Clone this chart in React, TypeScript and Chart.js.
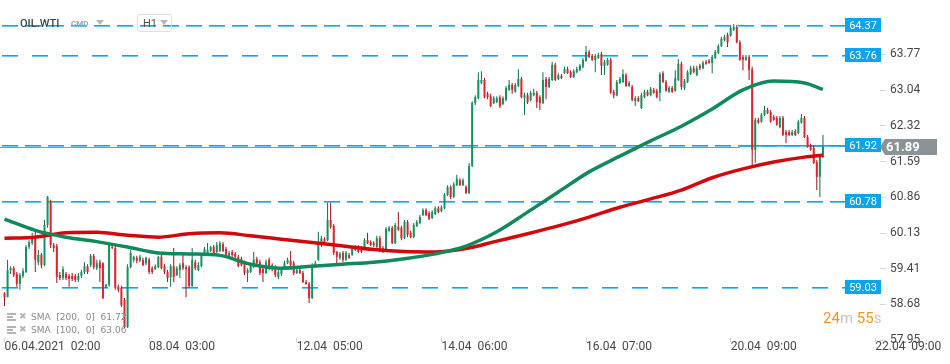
import React, { useEffect, useRef } from 'react';
import { Chart, registerables } from 'chart.js';
Chart.register(...registerables);

// ---- OHLC data (hourly candles, OIL.WTI H1) ----
const opens = [
58.91,58.83,59.38,59.42,59.30,59.10,59.26,59.34,59.85,59.93,
60.05,59.54,59.69,59.48,60.30,60.75,59.89,59.87,59.28,59.22,
59.30,59.26,59.26,59.26,59.18,59.26,59.34,59.46,59.48,59.67,
59.42,59.54,59.52,59.04,59.08,59.85,59.83,59.04,59.02,58.77,
58.22,59.44,59.59,59.63,59.57,59.59,59.52,59.59,59.42,59.40,59.44,
59.65,59.46,59.34,59.24,59.46,59.28,59.38,59.52,59.44,59.44,
59.06,59.54,59.38,59.46,59.69,59.73,59.77,59.85,59.75,59.77,
59.91,59.81,59.65,59.75,59.71,59.65,59.61,59.52,59.32,59.34,
59.44,59.61,59.54,59.40,59.32,59.59,59.48,59.44,59.24,59.30,
59.42,59.52,59.57,59.52,59.32,59.38,59.32,59.14,59.10,58.81,
59.46,59.59,59.95,60.01,59.99,60.40,
60.28,59.75,59.63,59.73,59.59,59.69,59.69,59.79,59.85,59.83,
59.85,59.99,59.95,59.93,59.85,60.03,59.83,59.79,60.18,60.24,
59.93,60.26,60.24,60.03,60.36,60.14,60.05,60.28,60.34,60.50,
60.60,60.54,60.44,60.52,60.64,60.58,60.64,60.91,61.07,60.87,
61.11,61.21,61.11,61.07,60.95,
61.50,62.78,62.88,63.19,63.25,62.97,62.92,62.78,62.80,62.90,
62.76,62.84,63.05,63.15,63.01,63.13,63.27,62.88,62.94,62.84,
62.94,62.99,62.90,62.78,63.27,63.11,63.25,63.56,63.27,63.33,
63.39,63.47,63.41,63.31,63.41,63.45,63.52,63.64,63.82,63.74,
63.66,63.70,63.78,63.54,63.56,63.66,63.01,62.94,63.19,63.21,
63.35,63.13,63.11,62.82,62.88,
62.68,62.90,63.01,62.94,63.05,63.03,62.99,63.39,63.21,63.01,
63.09,63.03,63.25,63.58,63.09,63.21,63.37,63.49,63.35,63.54,
63.49,63.62,63.64,63.60,63.70,63.80,63.94,64.06,64.17,64.15,
64.27,64.33,64.02,63.72,63.66,63.72,63.47,61.83,62.44,62.40,
62.54,62.64,62.60,62.50,62.48,62.29,62.48,62.19,62.19,62.13,
62.21,62.17,62.38,62.48,62.09,61.91,61.87,61.58,61.28,61.68
];
const highs = [
58.93,59.59,59.46,59.46,59.34,59.32,59.42,59.89,59.99,60.14,
60.16,59.79,59.73,60.40,60.89,60.81,59.93,59.91,59.34,59.46,
59.34,59.30,59.32,59.30,59.32,59.38,59.54,59.50,59.71,59.71,
59.59,59.59,59.54,59.10,59.93,59.89,59.87,59.08,59.06,58.81,
59.50,59.79,59.67,59.67,59.69,59.63,59.65,59.63,59.46,59.50,59.67,
59.69,59.50,59.38,59.50,59.83,59.46,59.52,59.69,59.48,59.48,
59.83,59.59,59.54,59.71,59.85,59.93,59.87,59.89,59.95,59.97,
59.95,59.85,59.77,59.79,59.75,59.69,59.65,59.57,59.42,59.52,
59.75,59.65,59.59,59.44,59.59,59.63,59.52,59.48,59.38,59.44,
59.57,59.63,59.77,59.57,59.42,59.42,59.36,59.18,59.14,59.52,
59.57,60.16,60.08,60.05,60.75,60.75,
60.32,59.77,59.75,59.77,59.77,59.73,59.87,59.89,59.89,59.87,
60.03,60.14,59.99,59.97,60.08,60.08,59.87,60.26,60.28,60.28,
60.34,60.56,60.28,60.40,60.40,60.18,60.34,60.40,60.50,60.64,
60.64,60.58,60.60,60.68,60.68,60.70,60.95,61.11,61.11,61.17,
61.32,61.25,61.25,61.11,61.56,
62.82,62.94,63.41,63.43,63.29,63.01,62.97,62.92,62.92,62.94,
62.92,63.13,63.25,63.19,63.19,63.47,63.31,62.99,62.99,63.03,
63.07,63.03,62.94,63.41,63.31,63.31,63.62,63.60,63.39,63.37,
63.52,63.52,63.45,63.47,63.52,63.58,63.70,63.94,63.86,63.78,
63.78,63.80,63.82,63.66,63.70,63.70,63.05,63.25,63.31,63.47,
63.39,63.23,63.15,62.92,62.92,
62.99,63.05,63.05,63.11,63.09,63.07,63.41,63.43,63.25,63.13,
63.13,63.45,63.68,63.62,63.27,63.45,63.54,63.54,63.54,63.58,
63.64,63.66,63.68,63.76,63.86,63.98,64.13,64.17,64.21,64.35,
64.39,64.37,64.06,63.76,63.76,63.76,63.52,62.48,62.48,62.58,
62.72,62.68,62.64,62.54,62.52,62.52,62.52,62.23,62.23,62.23,
62.25,62.44,62.56,62.52,62.13,61.95,61.91,61.62,61.72,62.13
];
const lows = [
58.65,58.83,59.30,59.24,59.04,58.98,59.22,59.32,59.81,59.89,
59.34,59.48,59.42,59.46,60.24,59.83,59.75,59.12,59.18,59.18,
59.18,59.04,59.16,59.14,59.14,59.22,59.30,59.30,59.44,59.40,
59.38,59.14,58.79,59.02,59.04,59.81,58.98,58.93,58.63,58.20,
58.20,59.42,59.54,59.52,59.54,59.46,59.48,59.30,59.30,59.38,59.42,
59.40,59.30,59.14,59.04,59.14,59.26,59.22,59.38,58.83,59.02,
59.04,59.38,59.36,59.44,59.67,59.71,59.75,59.71,59.73,59.75,
59.75,59.67,59.63,59.65,59.63,59.44,59.46,59.28,59.14,59.32,
59.42,59.50,59.28,59.14,59.30,59.38,59.36,59.24,59.20,59.26,
59.40,59.50,59.46,59.28,59.30,59.30,59.12,59.08,58.71,58.79,
59.44,59.57,59.85,59.89,59.97,60.22,
59.69,59.48,59.59,59.54,59.57,59.61,59.67,59.77,59.73,59.73,
59.83,59.91,59.87,59.85,59.83,59.75,59.73,59.77,60.16,59.91,
59.91,60.18,59.99,60.01,60.05,60.03,60.03,60.26,60.32,60.48,
60.48,60.40,60.42,60.50,60.54,60.56,60.62,60.89,60.83,60.85,
61.09,61.09,61.09,60.93,60.93,
61.48,62.74,62.86,63.17,62.88,62.86,62.70,62.76,62.78,62.68,
62.74,62.82,63.03,62.97,62.99,63.11,62.88,62.54,62.76,62.82,
62.92,62.68,62.64,62.76,62.86,63.09,63.23,63.23,63.25,63.27,
63.37,63.37,63.29,63.29,63.39,63.43,63.49,63.62,63.70,63.64,
63.41,63.68,63.35,63.35,63.54,62.97,62.88,62.92,63.17,63.19,
63.11,63.11,62.82,62.72,62.80,
62.66,62.88,62.92,62.92,62.97,62.88,62.82,63.19,63.01,62.99,
62.99,63.01,63.23,63.05,63.05,63.19,63.35,63.39,63.33,63.45,
63.47,63.56,63.58,63.39,63.68,63.78,63.92,64.04,63.92,64.13,
64.25,64.00,63.64,63.45,63.64,63.25,61.48,61.56,62.36,62.38,
62.52,62.56,62.38,62.42,62.32,62.27,62.11,61.97,62.11,62.11,
62.11,62.15,62.36,62.07,61.87,61.81,61.54,61.01,60.87,61.66
];
const closes = [
58.83,59.38,59.42,59.28,59.10,59.28,59.36,59.85,59.95,60.05,
59.59,59.69,59.48,60.30,60.87,59.89,59.83,59.24,59.22,59.40,
59.22,59.20,59.20,59.18,59.26,59.34,59.46,59.34,59.67,59.44,
59.52,59.42,58.81,59.08,59.89,59.83,59.02,58.98,58.67,58.22,
59.44,59.73,59.65,59.57,59.65,59.48,59.63,59.34,59.34,59.46,59.65,
59.42,59.34,59.22,59.46,59.24,59.42,59.48,59.42,59.40,59.06,
59.59,59.42,59.48,59.69,59.81,59.79,59.85,59.73,59.89,59.93,
59.77,59.69,59.73,59.69,59.65,59.46,59.48,59.32,59.38,59.48,
59.59,59.52,59.32,59.32,59.54,59.42,59.40,59.28,59.34,59.40,
59.52,59.59,59.48,59.32,59.38,59.32,59.14,59.10,58.81,59.48,
59.52,59.95,60.03,59.91,60.40,60.26,
59.73,59.65,59.71,59.59,59.73,59.63,59.83,59.85,59.75,59.75,
59.99,59.93,59.89,59.89,60.03,59.79,59.75,60.22,60.24,59.93,
60.30,60.20,60.03,60.36,60.10,60.05,60.30,60.36,60.46,60.60,
60.50,60.42,60.56,60.64,60.56,60.66,60.91,61.07,60.87,61.13,
61.24,61.11,61.21,60.95,61.50,
62.78,62.90,63.25,63.25,62.90,62.90,62.72,62.88,62.88,62.72,
62.88,63.09,63.15,63.05,63.15,63.27,62.90,62.94,62.80,62.99,
62.99,62.80,62.78,63.25,63.11,63.27,63.56,63.25,63.35,63.29,
63.47,63.39,63.31,63.43,63.47,63.54,63.66,63.82,63.72,63.66,
63.74,63.76,63.54,63.62,63.66,62.99,62.94,63.21,63.27,63.37,
63.13,63.19,62.84,62.88,62.82,
62.94,63.01,62.94,63.07,62.99,62.90,63.37,63.21,63.03,63.09,
63.01,63.29,63.58,63.11,63.23,63.41,63.49,63.41,63.49,63.49,
63.60,63.58,63.60,63.72,63.82,63.94,64.09,64.13,64.02,64.31,
64.33,64.02,63.66,63.66,63.72,63.45,61.83,62.44,62.38,62.54,
62.64,62.58,62.40,62.44,62.34,62.48,62.13,62.13,62.13,62.19,
62.13,62.40,62.48,62.09,61.89,61.83,61.56,61.28,61.72,61.89
];

// ---- moving averages (sampled at candle indices) ----
const smaIdx = [0,10,20,30,40,50,60,70,80,90,100,110,120,130,140,150,160,170,180,190,200,210,220,230,240,250,260,266];
const sma100 = [60.42,60.19,60.05,59.96,59.85,59.73,59.71,59.68,59.50,59.42,59.46,59.50,59.54,59.61,59.71,59.87,60.16,60.56,60.97,61.38,61.70,62.01,62.31,62.66,63.05,63.23,63.19,63.06];
const sma200 = [60.03,60.05,60.14,60.15,60.09,60.05,60.12,60.14,60.08,60.01,59.94,59.87,59.80,59.76,59.75,59.82,59.97,60.12,60.28,60.46,60.66,60.83,61.01,61.26,61.44,61.58,61.68,61.72];

// ---- axes ----
const xTickIdx = [0, 47, 95, 142, 189, 236, 283];
const xTickLabels = ['06.04.2021  02:00', '08.04  03:00', '12.04  05:00', '14.04  06:00', '16.04  07:00', '20.04  09:00', '22.04  09:00'];
const yTicks = [63.77, 63.04, 62.32, 61.59, 60.86, 60.13, 59.41, 58.68, 57.95];

// ---- price levels ----
const levels = [64.37, 63.76, 61.92, 60.78, 59.03];
const levelDash = [[16, 7], [16, 14], [16, 7], [16, 7], [16, 14]];
const currentPrice = 61.89;

const GREEN = '#16915f';
const RED = '#e0242f';
const GREEN_W = '#0d7048';
const RED_W = '#9a1119';
const BLUE = '#08a5f2';
const BLUE_SOFT = 'rgba(8,165,242,0.6)';

const levelPlugin = {
  id: 'levels',
  beforeDatasetsDraw(chart: any) {
    const { ctx, chartArea, scales } = chart;
    const y = scales.y;
    const xEnd = chartArea.right - 35;
    ctx.save();
    const cy = Math.round(y.getPixelForValue(currentPrice));
    ctx.fillStyle = '#8f969b';
    ctx.fillRect(chartArea.left, cy, 740 - chartArea.left, 1);
    levels.forEach((v, k) => {
      const py = Math.round(y.getPixelForValue(v));
      const [dash, gap] = levelDash[k];
      for (let x = chartArea.left + 2; x < xEnd; x += dash + gap) {
        const w = Math.min(dash, xEnd - x);
        ctx.fillStyle = BLUE;
        ctx.fillRect(x, py, w, 1);
        ctx.fillStyle = BLUE_SOFT;
        ctx.fillRect(x, py + 1, w, 1);
      }
      if (Math.abs(py - cy) < 3) {
        ctx.fillStyle = BLUE;
        ctx.fillRect(740, py, xEnd - 740, 1);
        ctx.fillStyle = BLUE_SOFT;
        ctx.fillRect(740, py + 1, xEnd - 740, 1);
      }
    });
    ctx.restore();
  },
  afterDatasetsDraw(chart: any) {
    const { ctx, chartArea, scales } = chart;
    const y = scales.y;
    ctx.save();
    levels.forEach((v) => {
      const py = Math.round(y.getPixelForValue(v));
      ctx.fillStyle = '#0ca4ee';
      ctx.fillRect(chartArea.right - 35, py - 7, 36, 14);
      ctx.fillStyle = '#ffffff';
      ctx.font = '11px Roboto';
      ctx.textAlign = 'center';
      ctx.textBaseline = 'middle';
      ctx.fillText(v.toFixed(2), chartArea.right - 17, py + 1);
    });
    ctx.restore();
  },
  afterDraw(chart: any) {
    const { ctx, chartArea, scales } = chart;
    const y = scales.y;
    const cy = Math.round(y.getPixelForValue(currentPrice));
    const x0 = chartArea.right;
    ctx.save();
    ctx.fillStyle = '#8b9397';
    ctx.beginPath();
    ctx.moveTo(x0, cy);
    ctx.lineTo(x0 + 5, cy - 8);
    ctx.lineTo(x0 + 57, cy - 8);
    ctx.lineTo(x0 + 57, cy + 8);
    ctx.lineTo(x0 + 5, cy + 8);
    ctx.closePath();
    ctx.fill();
    ctx.fillStyle = '#ffffff';
    ctx.font = 'bold 13px Roboto';
    ctx.textAlign = 'left';
    ctx.textBaseline = 'middle';
    ctx.fillText(currentPrice.toFixed(2), x0 + 6, cy + 1);
    ctx.restore();
  },
};

export default function App() {
  const ref = useRef<HTMLCanvasElement>(null);
  useEffect(() => {
    const isUp = closes.map((c, i) => c >= opens[i]);
    const bodyData = opens.map((o, i) => ({ x: i, y: [o, closes[i]] }));
    const wickData = lows.map((l, i) => ({ x: i, y: [l, highs[i]] }));
    const chart = new Chart(ref.current as HTMLCanvasElement, {
      type: 'bar',
      data: {
        datasets: [
          {
            type: 'line',
            label: 'SMA 100',
            data: smaIdx.map((x, k) => ({ x, y: sma100[k] })),
            borderColor: '#118a5b',
            borderWidth: 3.5,
            pointRadius: 0,
            cubicInterpolationMode: 'monotone',
            order: 0,
          } as any,
          {
            type: 'line',
            label: 'SMA 200',
            data: smaIdx.map((x, k) => ({ x, y: sma200[k] })),
            borderColor: '#d4070d',
            borderWidth: 3.5,
            pointRadius: 0,
            cubicInterpolationMode: 'monotone',
            order: 0,
          } as any,
          {
            type: 'bar',
            label: 'body',
            data: bodyData as any,
            backgroundColor: isUp.map((u) => (u ? GREEN : RED)),
            borderWidth: 0,
            grouped: false,
            maxBarThickness: 2,
            minBarLength: 1,
            inflateAmount: 0,
            order: 1,
          } as any,
          {
            type: 'bar',
            label: 'wick',
            data: wickData as any,
            backgroundColor: isUp.map((u) => (u ? GREEN_W : RED_W)),
            borderWidth: 0,
            grouped: false,
            maxBarThickness: 1,
            inflateAmount: 0,
            order: 2,
          } as any,
        ],
      },
      options: {
        animation: false,
        responsive: false,
        devicePixelRatio: 1,
        layout: { padding: 0 },
        plugins: { legend: { display: false }, tooltip: { enabled: false } },
        scales: {
          x: {
            type: 'linear',
            min: -1.46,
            max: 284.54,
            offset: false,
            grid: { drawOnChartArea: false, drawTicks: true, tickLength: 4, color: '#cfcfcf', offset: false },
            border: { display: false },
            ticks: {
              autoSkip: false,
              maxRotation: 0,
              minRotation: 0,
              align: 'start',
              padding: -2,
              color: '#474747',
              font: { family: 'Roboto', size: 12 },
              callback: (value: any) => {
                const k = xTickIdx.indexOf(Number(value));
                return k >= 0 ? xTickLabels[k] : '';
              },
            },
            afterBuildTicks: (scale: any) => {
              scale.ticks = xTickIdx.map((v) => ({ value: v }));
            },
            afterFit: (scale: any) => {
              scale.height = 26;
              scale.paddingLeft = 0;
              scale.paddingRight = 0;
            },
          } as any,
          y: {
            type: 'linear',
            position: 'right',
            min: 57.998,
            max: 64.879,
            beginAtZero: false,
            grid: { drawOnChartArea: false, drawTicks: true, tickLength: 6, color: '#d6d6d6' },
            border: { display: false },
            ticks: {
              padding: 4,
              color: '#474747',
              font: { family: 'Roboto', size: 12 },
              callback: (value: any) => Number(value).toFixed(2),
            },
            afterBuildTicks: (scale: any) => {
              scale.ticks = yTicks.map((v) => ({ value: v }));
            },
            afterFit: (scale: any) => {
              scale.width = 70;
              scale.paddingTop = 0;
              scale.paddingBottom = 0;
            },
          } as any,
        },
      },
      plugins: [levelPlugin],
    } as any);
    return () => chart.destroy();
  }, []);

  const tri = (left: number, top: number) => (
    <div style={{ position: 'absolute', left, top, width: 0, height: 0, borderLeft: '4px solid transparent', borderRight: '4px solid transparent', borderTop: '5px solid #b8b8b8' }} />
  );
  const listIcon = (top: number) => (
    <div style={{ position: 'absolute', left: 7, top, width: 9, height: 8 }}>
      <div style={{ height: 2, background: '#b5b5b5', marginBottom: 1 }} />
      <div style={{ height: 2, background: '#b5b5b5', marginBottom: 1, width: 6 }} />
      <div style={{ height: 2, background: '#b5b5b5' }} />
    </div>
  );
  const legendText: React.CSSProperties = { position: 'absolute', left: 31, fontSize: 9, lineHeight: '9px', color: '#8a8a8a', whiteSpace: 'pre', fontFamily: '"DejaVu Sans"' };
  const xMark: React.CSSProperties = { position: 'absolute', left: 19, fontSize: 9, lineHeight: '9px', color: '#b5b5b5', fontFamily: '"DejaVu Sans"' };

  return (
    <div style={{ position: 'absolute', left: 0, top: 0, width: 950, height: 364, background: '#fff', overflow: 'hidden', fontFamily: 'Roboto' }}>
      <canvas ref={ref} width={950} height={364} style={{ position: 'absolute', left: 0, top: 0, width: 950, height: 364, display: 'block' }} />
      <div style={{ position: 'absolute', left: 20, top: 18, fontSize: 11, lineHeight: '11px', fontWeight: 500, color: '#37474f', fontFamily: 'Roboto' }}>OIL.WTI</div>
      <div style={{ position: 'absolute', left: 71, top: 20, fontSize: 8, lineHeight: '8px', fontWeight: 700, color: '#9aa4ab', fontFamily: 'Roboto' }}>CMD</div>
      {tri(96, 20)}
      <div style={{ position: 'absolute', left: 137, top: 14, width: 33, height: 16, border: '1px solid #dedede', borderRadius: 3 }}>
        <div style={{ position: 'absolute', left: 5, top: 3, fontSize: 11, lineHeight: '11px', color: '#555', fontFamily: 'Roboto' }}>H1</div>
      </div>
      {tri(160, 20)}
      {listIcon(313)}
      <div style={{ ...xMark, top: 312 }}>✖</div>
      <div style={{ ...legendText, top: 313 }}>SMA  [200,  0]  61.72</div>
      {listIcon(326)}
      <div style={{ ...xMark, top: 325 }}>✖</div>
      <div style={{ ...legendText, top: 326 }}>SMA  [100,  0]  63.06</div>
      <div style={{ position: 'absolute', left: 823, top: 311, fontSize: 15, lineHeight: '15px', fontFamily: 'Roboto', whiteSpace: 'pre' }}>
        <span style={{ color: '#f7941d' }}>24</span>
        <span style={{ color: '#c4c4c4' }}>m </span>
        <span style={{ color: '#f7941d' }}>55</span>
        <span style={{ color: '#c4c4c4' }}>s</span>
      </div>
    </div>
  );
}
